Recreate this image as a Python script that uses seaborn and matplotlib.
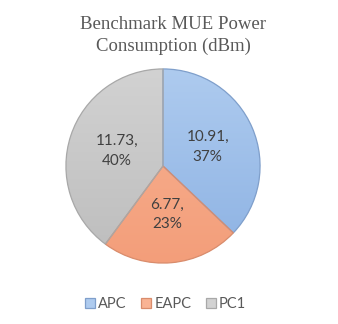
import numpy as np
import matplotlib
matplotlib.use("Agg")
import matplotlib.pyplot as plt
from matplotlib.colors import LinearSegmentedColormap
import seaborn as sns

# chart data
labels = ["APC", "EAPC", "PC1"]
values = [10.91, 6.77, 11.73]
pcts = ["37%", "23%", "40%"]

# light / dark ends of each wedge's gradient, and its border
top_colors = ["#aecbef", "#f9b394", "#d2d2d2"]
bottom_colors = ["#8db2e3", "#f39e7a", "#bdbdbd"]
edge_colors = ["#7f9fcb", "#d98c6c", "#a8a8a8"]

sns.set_style("white")
plt.rcParams["font.family"] = ["Lato", "DejaVu Sans"]

fig = plt.figure(figsize=(3.38, 3.24), dpi=100)
ax = fig.add_axes([64 / 338, 59 / 324, 198 / 338, 198 / 324])

wedges, texts = ax.pie(values, startangle=90, counterclock=False,
                       colors=top_colors, radius=1,
                       wedgeprops=dict(linewidth=0.9))

# gradient fill clipped to each wedge
grad = np.linspace(0, 1, 256).reshape(-1, 1)
for w, c1, c2, ec in zip(wedges, top_colors, bottom_colors, edge_colors):
    cmap = LinearSegmentedColormap.from_list("g", [c1, c2])
    im = ax.imshow(grad, cmap=cmap, extent=[-1, 1, -1, 1], origin="upper",
                   aspect="auto", zorder=1.5)
    im.set_clip_path(w)
    w.set_facecolor("none")
    w.set_edgecolor(ec)
    w.set_zorder(2)

# data labels at half radius of each wedge
total = sum(values)
start = 90.0
for v, p in zip(values, pcts):
    ang = np.deg2rad(start - v / total * 180)
    start -= v / total * 360
    ax.text(0.5 * np.cos(ang), 0.5 * np.sin(ang), f"{v:.2f},\n{p}",
            ha="center", va="center", fontsize=11, color="#404040",
            linespacing=1.5, zorder=3)

ax.set_xlim(-1.02, 1.02)
ax.set_ylim(-1.02, 1.02)
ax.set_aspect("equal")
ax.axis("off")

fig.text(0.512, 0.89, "Benchmark MUE Power\nConsumption (dBm)", ha="center",
         va="center", fontsize=13.5, color="#595959",
         family=["Liberation Serif", "DejaVu Serif"], linespacing=1.35)

handles = [plt.Rectangle((0, 0), 1, 1, facecolor=t, edgecolor=e, linewidth=0.9)
           for t, e in zip(top_colors, edge_colors)]
fig.legend(handles, labels, loc="center", bbox_to_anchor=(0.49, 0.062),
           ncol=3, frameon=False, fontsize=10.5, handlelength=0.7,
           handleheight=0.7, handletextpad=0.2, columnspacing=1.0,
           labelcolor="#595959")

fig.savefig("out.png", dpi=100)
